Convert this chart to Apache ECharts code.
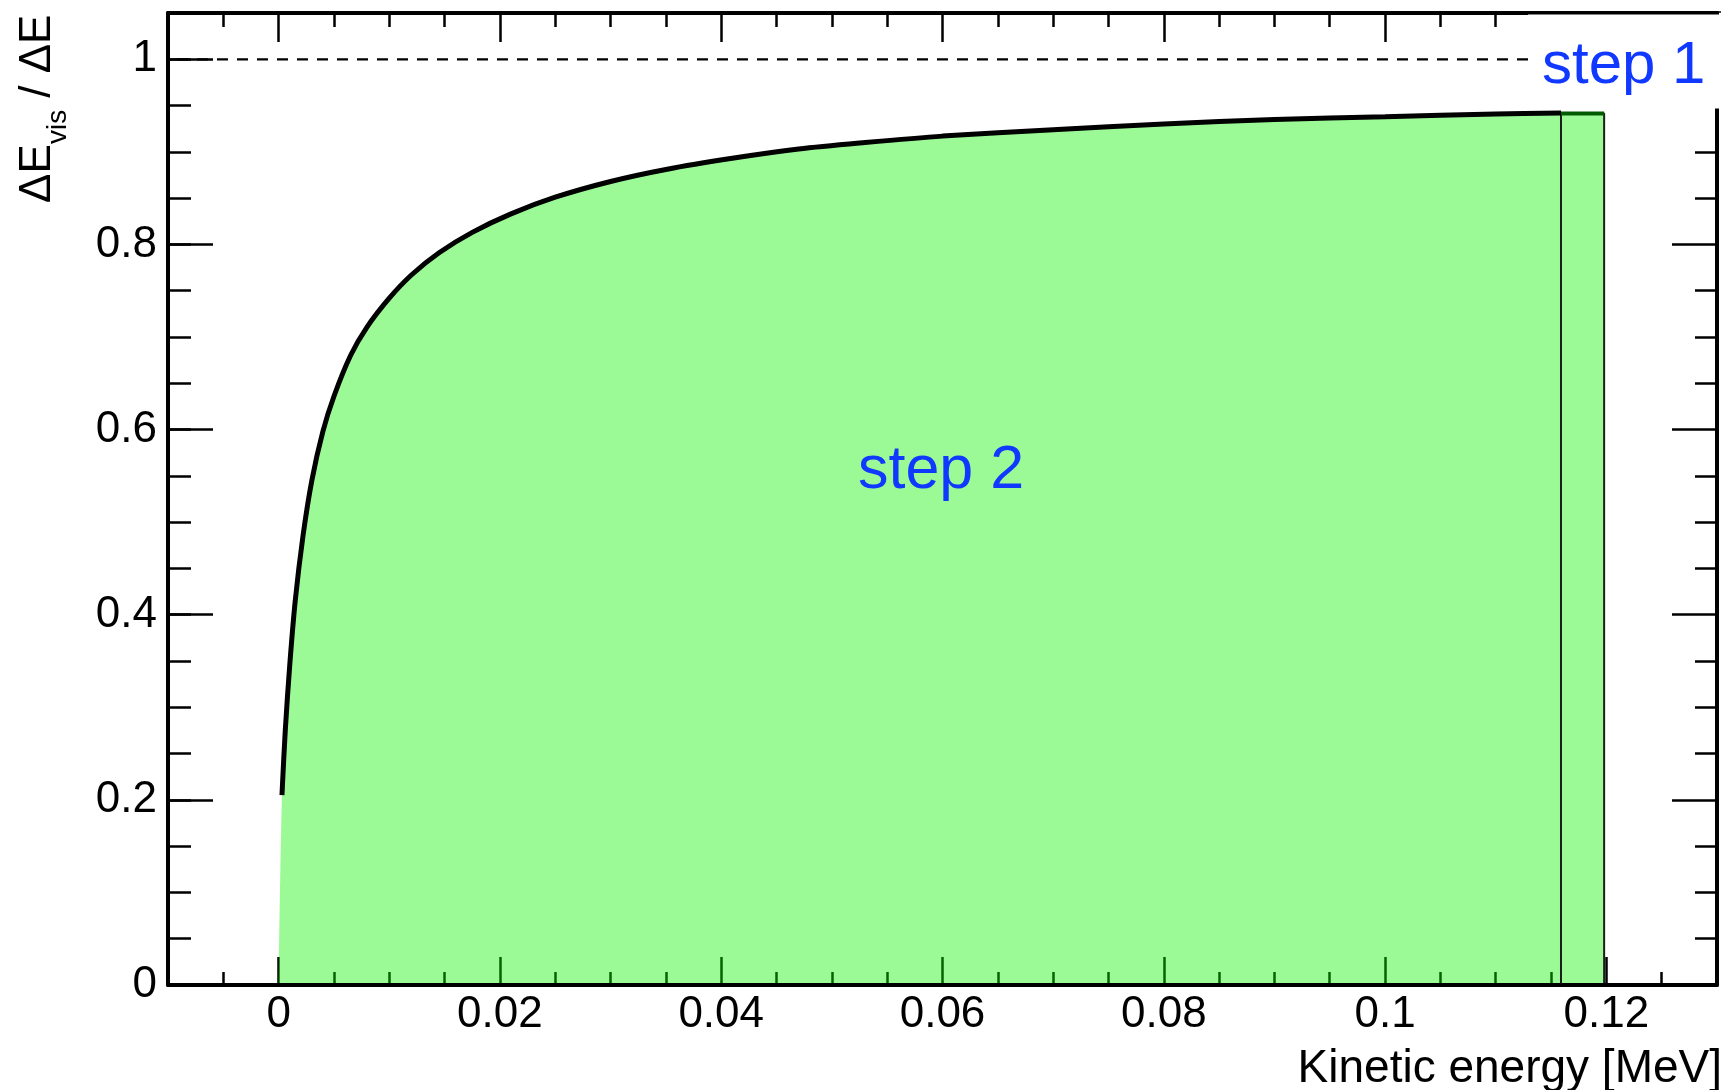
<!DOCTYPE html>
<html><head><meta charset="utf-8">
<script src="https://cdn.jsdelivr.net/npm/echarts@6/dist/echarts.min.js"></script>
<style>html,body{margin:0;padding:0;background:#fff}#c{width:1736px;height:1090px}</style>
</head><body><div id="c"></div>
<script>
// ---- data ----
const curveX = [0.0003, 0.0006, 0.001, 0.0015, 0.0022, 0.003, 0.004, 0.005, 0.0065, 0.008, 0.010, 0.012, 0.0145, 0.0175, 0.021, 0.025, 0.030, 0.035, 0.041, 0.047, 0.053, 0.060, 0.070, 0.080, 0.090, 0.100, 0.110, 0.1159];
const curveY = [0.205, 0.275, 0.345, 0.415, 0.485, 0.545, 0.598, 0.636, 0.680, 0.711, 0.742, 0.767, 0.791, 0.813, 0.833, 0.851, 0.868, 0.881, 0.893, 0.903, 0.910, 0.917, 0.924, 0.930, 0.935, 0.938, 0.941, 0.942];
const fillStartX = [0];
const fillStartY = [0];
const step1X = [0.1159, 0.1198];
const step1Y = [0.9415];
const referenceY = [1];
const xRange = [-0.01, 0.13];
const yRange = [0, 1.05];
const xTickValues = [0, 0.02, 0.04, 0.06, 0.08, 0.1, 0.12];
const yTickValues = [0, 0.2, 0.4, 0.6, 0.8, 1];
const xMinorStep = 0.005;
const yMinorStep = 0.05;
const labels = { step1: 'step 1', step2: 'step 2', xTitle: 'Kinetic energy [MeV]' };

// ---- build ----
const FONT = '"Liberation Sans", Arial, Helvetica, sans-serif';
const GREEN = 'rgba(14,243,0,0.41)';
const BLUE = '#1038ff';
function range(a, b, s) { const r = []; const n = Math.round((b - a) / s); for (let i = 0; i <= n; i++) r.push(+(a + i * s).toFixed(6)); return r; }
const xMinor = range(xRange[0], xRange[1], xMinorStep);
const yMinor = range(yRange[0], yRange[1], yMinorStep);

const curveData = curveX.map((x, i) => [x, curveY[i]]);
const fillData = fillStartX.map((x, i) => [x, fillStartY[i]]).concat(curveData);
const step1Data = [[step1X[0], 0], [step1X[0], step1Y[0]], [step1X[1], step1Y[0]], [step1X[1], 0]];
const step1Top = [[step1X[0], step1Y[0]], [step1X[1], step1Y[0]]];
const refData = [[xRange[0], referenceY[0]], [xRange[1], referenceY[0]]];

function xAx(pos, opt) {
  return Object.assign({
    type: 'value', min: xRange[0], max: xRange[1], position: pos, gridIndex: 0,
    axisLine: { show: false, onZero: false }, axisTick: { show: false }, axisLabel: { show: false },
    splitLine: { show: false }, z: 0
  }, opt);
}
function yAx(pos, opt) {
  return Object.assign({
    type: 'value', min: yRange[0], max: yRange[1], position: pos, gridIndex: 0,
    axisLine: { show: false, onZero: false }, axisTick: { show: false }, axisLabel: { show: false },
    splitLine: { show: false }, z: 0
  }, opt);
}
const tickStyle = { color: '#000', width: 2.5 };
const lineStyleAx = { color: '#000', width: 4 };

const option = {
  animation: false,
  backgroundColor: '#fff',
  grid: { left: 168, right: 19, top: 13, bottom: 105, containLabel: false },
  xAxis: [
    xAx('bottom', { axisLine: { show: true, onZero: false, lineStyle: lineStyleAx },
      axisLabel: { show: true, customValues: xTickValues, fontSize: 44, fontFamily: FONT, color: '#000', margin: 8 }, z: 5 }),
    xAx('bottom', { axisTick: { show: true, inside: true, length: 28, customValues: xTickValues, lineStyle: tickStyle } }),
    xAx('bottom', { axisTick: { show: true, inside: true, length: 13, customValues: xMinor, lineStyle: tickStyle } }),
    xAx('top', { axisLine: { show: true, onZero: false, lineStyle: lineStyleAx },
      axisTick: { show: true, inside: true, length: 29, customValues: xTickValues, lineStyle: tickStyle } }),
    xAx('top', { axisTick: { show: true, inside: true, length: 14, customValues: xMinor, lineStyle: tickStyle } })
  ],
  yAxis: [
    yAx('left', { axisLine: { show: true, onZero: false, lineStyle: lineStyleAx },
      axisTick: { show: true, inside: true, length: 45, customValues: yTickValues, lineStyle: tickStyle },
      axisLabel: { show: true, customValues: yTickValues, fontSize: 44, fontFamily: FONT, color: '#000', margin: 11 }, z: 5 }),
    yAx('left', { axisTick: { show: true, inside: true, length: 23, customValues: yMinor, lineStyle: tickStyle } }),
    yAx('right', { axisLine: { show: true, onZero: false, lineStyle: lineStyleAx },
      axisTick: { show: true, inside: true, length: 45, customValues: yTickValues, lineStyle: tickStyle } }),
    yAx('right', { axisTick: { show: true, inside: true, length: 22, customValues: yMinor, lineStyle: tickStyle } })
  ],
  series: [
    { name: 'step 2 area', type: 'line', xAxisIndex: 0, yAxisIndex: 0, data: fillData, symbol: 'none',
      smooth: 0.3, lineStyle: { width: 0 }, areaStyle: { color: GREEN, opacity: 1 }, z: 2, silent: true },
    { name: 'step 1 area', type: 'line', xAxisIndex: 0, yAxisIndex: 0, data: step1Data, symbol: 'none',
      lineStyle: { color: '#1c1c1c', width: 2 }, areaStyle: { color: GREEN, opacity: 1 }, z: 2, silent: true },
    { name: 'step 1 top', type: 'line', xAxisIndex: 0, yAxisIndex: 0, data: step1Top, symbol: 'none',
      lineStyle: { color: '#005a00', width: 4 }, z: 3, silent: true },
    { name: 'curve', type: 'line', xAxisIndex: 0, yAxisIndex: 0, data: curveData, symbol: 'none',
      smooth: 0.3, lineStyle: { color: '#000', width: 5 }, z: 4, silent: true },
    { name: 'reference', type: 'line', xAxisIndex: 0, yAxisIndex: 0, data: refData, symbol: 'none',
      lineStyle: { color: '#000', width: 2.2, type: [11, 9], dashOffset: 11 }, z: 4, silent: true }
  ],
  graphic: [
    { type: 'rect', z: 100, shape: { x: 1528, y: 14.5, width: 196, height: 94 }, style: { fill: '#fff' } },
    { type: 'line', z: 101, shape: { x1: 1528, y1: 12, x2: 1721, y2: 12 }, style: { stroke: '#000', lineWidth: 1.5 } },
    { type: 'text', z: 102, x: 1542, y: 66, style: { text: labels.step1, fill: BLUE, font: '60px ' + FONT, textAlign: 'left', align: 'left', textVerticalAlign: 'middle', verticalAlign: 'middle' } },
    { type: 'text', z: 102, x: 858, y: 471, style: { text: labels.step2, fill: BLUE, font: '61px ' + FONT, textAlign: 'left', align: 'left', textVerticalAlign: 'middle', verticalAlign: 'middle' } },
    { type: 'text', z: 102, x: 1722, y: 1069, style: { text: labels.xTitle, fill: '#000', font: '46px ' + FONT, textAlign: 'right', align: 'right', textVerticalAlign: 'middle', verticalAlign: 'middle' } },
    { type: 'group', x: 53, y: 203, rotation: Math.PI / 2, z: 102, children: [
      { type: 'text', x: 0, y: -15.4, style: { text: 'ΔE', fill: '#000', font: '44px ' + FONT, textAlign: 'left', align: 'left', textVerticalAlign: 'middle', verticalAlign: 'middle' } },
      { type: 'text', x: 59, y: 5.2, style: { text: 'vis', fill: '#000', font: '28px ' + FONT, textAlign: 'left', align: 'left', textVerticalAlign: 'middle', verticalAlign: 'middle' } },
      { type: 'text', x: 93, y: -15.4, style: { text: ' / ΔE', fill: '#000', font: '44px ' + FONT, textAlign: 'left', align: 'left', textVerticalAlign: 'middle', verticalAlign: 'middle' } }
    ] }
  ]
};
const chart = echarts.init(document.getElementById('c'), null, { renderer: 'canvas' });
chart.setOption(option);
</script></body></html>
